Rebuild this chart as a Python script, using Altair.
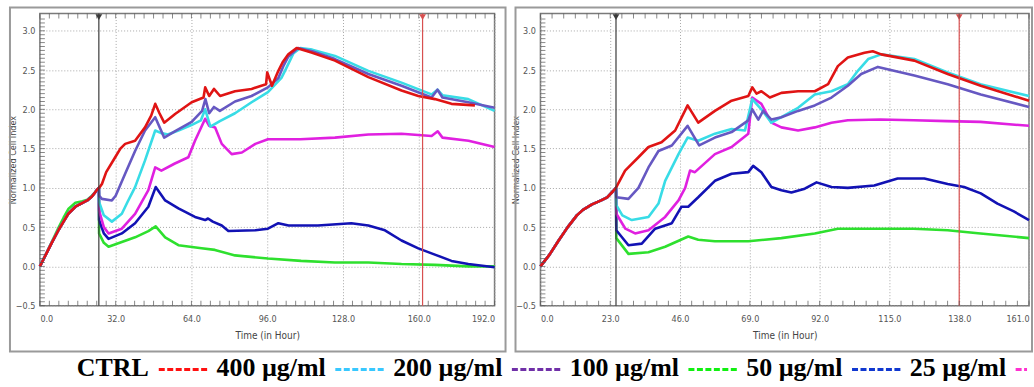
import altair as alt
import pandas as pd

# ---------------- data ----------------
series = ["CTRL", "400 µg/ml", "200 µg/ml", "100 µg/ml", "50 µg/ml", "25 µg/ml"]
line_colors = ["#e01414", "#38dce6", "#6658c2", "#2ee02e", "#1212b4", "#e020e0"]
line_widths = [2.6, 2.6, 2.6, 3.8, 4.4, 2.8]
draw_order = ["100 µg/ml", "50 µg/ml", "25 µg/ml", "400 µg/ml", "200 µg/ml", "CTRL"]

# pre-treatment (shared baseline growth)
pre_t_L = [0, 2, 5, 8, 10, 12, 15, 18, 20, 22, 24, 24.9]
pre_v_L = [0.0, 0.12, 0.30, 0.47, 0.57, 0.67, 0.76, 0.81, 0.84, 0.89, 0.97, 1.0]
pre_v_L_green = [0.0, 0.12, 0.31, 0.50, 0.62, 0.73, 0.81, 0.83, 0.85, 0.90, 0.97, 1.0]
pre_t_R = [0, 3, 6, 9, 12, 14, 17, 20, 22, 24, 24.9]
pre_v_R = [0.0, 0.15, 0.33, 0.50, 0.65, 0.72, 0.79, 0.84, 0.88, 0.96, 1.0]

# ---- left panel (0-192 h) ----
L_red_t = [25.0, 26.2, 28, 31.8, 34, 36, 40.2, 44.4, 47, 48.7, 50.5, 52.5, 57.1, 64.1, 69.1, 69.8, 71.5, 73.5, 76.1, 82.4, 89.4, 95.5, 96.0, 98, 100.7, 102.5, 104.9, 108.4, 115, 124.6, 138.7, 152.7, 159.8, 166.8, 173.8, 183.7]
L_red_v = [1.0, 1.05, 1.2, 1.39, 1.5, 1.56, 1.6, 1.77, 1.92, 2.07, 1.95, 1.83, 1.94, 2.09, 2.15, 2.28, 2.17, 2.26, 2.17, 2.23, 2.26, 2.32, 2.47, 2.3, 2.49, 2.6, 2.70, 2.78, 2.72, 2.62, 2.41, 2.24, 2.17, 2.13, 2.07, 2.05]
L_cyan_t = [25.0, 27, 30.4, 34.6, 37, 40.2, 44.4, 48.7, 51, 54, 58.5, 64, 68, 69.8, 72, 76, 82.4, 89.4, 96.3, 102, 103.5, 107, 110, 115, 124.6, 138.7, 152.7, 165.4, 167.9, 170, 180.9, 192]
L_cyan_v = [0.82, 0.65, 0.57, 0.67, 0.82, 1.01, 1.35, 1.73, 1.70, 1.68, 1.73, 1.80, 1.86, 2.0, 1.78, 1.85, 1.95, 2.09, 2.22, 2.40, 2.49, 2.71, 2.78, 2.76, 2.68, 2.49, 2.34, 2.19, 2.25, 2.18, 2.13, 1.98]
L_purple_t = [25.0, 26.2, 30.4, 32, 36, 40.2, 44.4, 48.7, 52.5, 57.5, 64.1, 68.5, 69.9, 71.5, 73.5, 76, 82.4, 89.4, 96.3, 100.7, 102.8, 104.9, 109, 115, 124.6, 138.7, 152.7, 165.4, 167.9, 170, 180.9, 192]
L_purple_v = [0.9, 0.86, 0.84, 0.9, 1.18, 1.47, 1.73, 1.90, 1.64, 1.73, 1.84, 1.98, 2.13, 1.95, 2.03, 1.98, 2.10, 2.17, 2.28, 2.40, 2.55, 2.67, 2.78, 2.74, 2.64, 2.45, 2.30, 2.15, 2.25, 2.15, 2.09, 2.02]
L_green_t = [25.0, 27, 29, 34.6, 40.2, 45.8, 48.9, 52.9, 58.5, 68.3, 73.9, 82.4, 96.3, 110.3, 124.6, 138.7, 152.7, 166.8, 180.9, 192]
L_green_v = [0.42, 0.30, 0.25, 0.31, 0.37, 0.45, 0.51, 0.37, 0.27, 0.23, 0.21, 0.14, 0.10, 0.07, 0.05, 0.05, 0.03, 0.02, 0.0, 0.0]
L_blue_t = [25.0, 27, 29, 34.6, 40.2, 45.8, 48.9, 52.9, 58.5, 65.5, 69.8, 71, 73, 76.8, 79.6, 91, 96.3, 100.7, 105, 117.4, 131.5, 138.7, 145.7, 152.7, 159.8, 166.8, 173.8, 180.9, 192]
L_blue_v = [0.59, 0.42, 0.35, 0.42, 0.55, 0.76, 1.01, 0.84, 0.74, 0.63, 0.59, 0.61, 0.57, 0.52, 0.45, 0.46, 0.48, 0.55, 0.52, 0.52, 0.55, 0.52, 0.46, 0.33, 0.23, 0.15, 0.07, 0.03, -0.01]
L_mag_t = [25.0, 27, 29, 34.6, 40.2, 45.8, 48.7, 51.3, 57, 62.7, 65.5, 69.8, 71.5, 74, 76.8, 81, 85.3, 91, 96.3, 110, 124.6, 138.7, 152.7, 165.4, 168, 170, 181, 192]
L_mag_v = [0.71, 0.50, 0.42, 0.48, 0.67, 0.97, 1.26, 1.22, 1.31, 1.39, 1.60, 1.88, 1.79, 1.77, 1.56, 1.43, 1.45, 1.56, 1.62, 1.62, 1.64, 1.68, 1.69, 1.66, 1.72, 1.64, 1.60, 1.52]

# ---- right panel (0-161 h) ----
R_red_t = [25.0, 27.9, 32.3, 35.6, 39.9, 44.4, 48.5, 52, 57.5, 63, 68.5, 69.8, 71.2, 72.8, 75.6, 79.4, 84.9, 90.4, 94.8, 98, 101.3, 106.8, 109.5, 112.3, 123.2, 134.2, 145.1, 161]
R_red_v = [1.01, 1.22, 1.39, 1.52, 1.58, 1.73, 2.05, 1.83, 1.98, 2.11, 2.17, 2.28, 2.2, 2.23, 2.15, 2.21, 2.23, 2.23, 2.32, 2.55, 2.66, 2.72, 2.74, 2.70, 2.62, 2.45, 2.30, 2.11]
R_cyan_t = [25.0, 27, 30.1, 35.6, 38.9, 41.1, 45.5, 48.5, 52, 57.5, 63, 67.4, 69.8, 72.8, 76.1, 79.4, 84.9, 90.4, 95.9, 101.3, 104.6, 108, 112.3, 123.2, 134.2, 145, 161]
R_cyan_v = [0.78, 0.65, 0.59, 0.63, 0.80, 1.09, 1.43, 1.64, 1.60, 1.69, 1.75, 1.73, 2.13, 2.0, 1.83, 1.90, 2.02, 2.19, 2.23, 2.32, 2.49, 2.64, 2.70, 2.64, 2.47, 2.32, 2.17]
R_purple_t = [25.0, 29, 32.3, 35.6, 38.9, 43.3, 48.5, 52.3, 57.5, 63, 68.5, 69.8, 71.8, 73.4, 76.1, 79.4, 84.9, 90.4, 95.9, 101.3, 105.7, 111.2, 123.2, 134.2, 145.1, 161]
R_purple_v = [0.88, 0.86, 1.0, 1.26, 1.47, 1.54, 1.79, 1.54, 1.64, 1.71, 1.86, 2.0, 1.87, 1.98, 1.87, 1.90, 1.98, 2.05, 2.15, 2.30, 2.45, 2.54, 2.43, 2.32, 2.19, 2.03]
R_green_t = [25.0, 29, 35.6, 41.1, 48.7, 52, 57.5, 68.5, 79.4, 90.4, 98, 112, 123, 134.2, 145, 161]
R_green_v = [0.36, 0.16, 0.18, 0.25, 0.38, 0.34, 0.32, 0.32, 0.36, 0.42, 0.48, 0.48, 0.48, 0.46, 0.42, 0.36]
R_blue_t = [25.0, 29, 33.4, 37.8, 43.3, 46.5, 48.7, 52, 57.5, 63, 68.5, 70.1, 72.8, 76.1, 79.4, 82.7, 87.1, 91, 95.9, 101.3, 110, 117.7, 126.5, 134.2, 139.6, 145.1, 150.6, 156, 161]
R_blue_v = [0.46, 0.27, 0.29, 0.48, 0.55, 0.76, 0.76, 0.88, 1.09, 1.18, 1.20, 1.28, 1.20, 1.01, 0.97, 0.94, 0.99, 1.07, 1.01, 1.0, 1.03, 1.12, 1.12, 1.05, 1.01, 0.93, 0.80, 0.70, 0.59]
R_mag_t = [25.0, 28, 31.2, 35.6, 41.1, 45.5, 47.7, 49.3, 50.9, 57.5, 63, 68.5, 69.8, 72.8, 76.1, 79.4, 84.9, 90.4, 95.9, 101.3, 112, 123, 134, 145, 161]
R_mag_v = [0.67, 0.48, 0.42, 0.46, 0.63, 0.84, 1.0, 1.22, 1.20, 1.43, 1.52, 1.69, 2.15, 2.07, 1.83, 1.77, 1.73, 1.77, 1.83, 1.86, 1.87, 1.86, 1.85, 1.84, 1.79]

# event markers (vertical lines)
events_L = [24.9, 161.6]
events_R = [24.9, 138.0]
event_colors = ["#3a3a3a", "#d85050"]

# axis ticks
xticks_L = [0, 32, 64, 96, 128, 160, 192]
xticks_R = [0, 23, 46, 69, 92, 115, 138, 161]
yticks = [-0.5, 0.0, 0.5, 1.0, 1.5, 2.0, 2.5, 3.0]
minor_x_L = [4 * i for i in range(49)]
minor_x_R = [23 / 6 * i for i in range(43)]
minor_y = [round(-0.5 + 0.05 * i, 3) for i in range(74)]
Y_DOMAIN = [-0.5, 3.22]

# caption line under the figure: "CTRL ------ 400 µg/ml ------ ..." (coloured dashes after each label)
legend_labels = ["CTRL", "400 µg/ml", "200 µg/ml", "100 µg/ml", "50 µg/ml", "25 µg/ml"]
legend_dash_colors = ["#ff1010", "#38c8ff", "#7030a8", "#10f010", "#1038d0", "#ff30d0"]

W_L, W_R, H = 456, 490, 293


def build_df(pre_t, pre_v, pre_v_green, post):
    rows = []
    for k, name in enumerate(draw_order):
        t_post, v_post = post[name]
        pv = pre_v_green if name == "100 µg/ml" else pre_v
        ts = list(pre_t) + list(t_post)
        vs = list(pv) + list(v_post)
        for i, (t, v) in enumerate(zip(ts, vs)):
            rows.append({"series": name, "t": t, "v": v, "idx": i, "k": k})
    return pd.DataFrame(rows)


df_L = build_df(pre_t_L, pre_v_L, pre_v_L_green, {
    "CTRL": (L_red_t, L_red_v), "400 µg/ml": (L_cyan_t, L_cyan_v),
    "200 µg/ml": (L_purple_t, L_purple_v), "100 µg/ml": (L_green_t, L_green_v),
    "50 µg/ml": (L_blue_t, L_blue_v), "25 µg/ml": (L_mag_t, L_mag_v)})
df_R = build_df(pre_t_R, pre_v_R, pre_v_R, {
    "CTRL": (R_red_t, R_red_v), "400 µg/ml": (R_cyan_t, R_cyan_v),
    "200 µg/ml": (R_purple_t, R_purple_v), "100 µg/ml": (R_green_t, R_green_v),
    "50 µg/ml": (R_blue_t, R_blue_v), "25 µg/ml": (R_mag_t, R_mag_v)})

AXIS_FONT = "Liberation Sans Narrow, DejaVu Sans Condensed, Liberation Sans"

# --- caption layout (text flows left to right, widths from Times-Bold metrics) ---
CAP_SIZE = 26
CHAR_W = {"C": 0.722, "T": 0.667, "R": 0.722, "L": 0.667, " ": 0.25, "µ": 0.556, "g": 0.5,
          "/": 0.278, "m": 0.833, "l": 0.278}


def text_width(s):
    return sum(CHAR_W.get(ch, 0.5) for ch in s) * CAP_SIZE


def caption_layers():
    # positions relative to the left plot's origin
    x = 37.0                   # caption starts just right of the left panel's axis
    bottom_y = H + 76          # bottom of the text line (page bottom)
    dash_y = H + 64
    max_x = W_L + 46 + W_R - 2  # stop at the page edge
    layers = []
    one = pd.DataFrame({"a": [0]})
    for lab, col in zip(legend_labels, legend_dash_colors):
        layers.append(alt.Chart(pd.DataFrame({"label": [lab]})).mark_text(
            align="left", baseline="bottom", font="Liberation Serif", fontSize=CAP_SIZE,
            fontWeight="bold", color="#000000"
        ).encode(x=alt.value(x), y=alt.value(bottom_y), text="label:N"))
        x += text_width(lab) + 10
        x2 = min(x + 50, max_x)
        layers.append(alt.Chart(one).mark_rule(strokeWidth=3, strokeDash=[6, 2.5], color=col).encode(
            x=alt.value(x), x2=alt.value(x2), y=alt.value(dash_y)))
        x += 58
    return layers


def panel(df, xmax, xticks, minor_x, events, W, frame_left, frame_right, title_pad, extra):
    xs = alt.Scale(domain=[0, xmax], nice=False, zero=False)
    ys = alt.Scale(domain=Y_DOMAIN, nice=False, zero=False)
    xax = alt.Axis(values=xticks, format=".1f", title="Time (in Hour)", grid=True,
                   ticks=False, domain=False, labelPadding=9, titlePadding=7)
    yax = alt.Axis(values=yticks, format=".1f", title="Normalized Cell Index", grid=True,
                   ticks=False, domain=False, labelPadding=5, titlePadding=title_pad, titleFontSize=9)

    frame = alt.Chart(pd.DataFrame({"a": [0]})).mark_rect(
        fillOpacity=0, stroke="#9a9a9a", strokeWidth=2
    ).encode(x=alt.value(frame_left), x2=alt.value(W + frame_right), y=alt.value(-6), y2=alt.value(H + 46))

    lines = alt.Chart(df).mark_line(strokeJoin="round").encode(
        x=alt.X("t:Q", scale=xs, axis=xax),
        y=alt.Y("v:Q", scale=ys, axis=yax),
        color=alt.Color("series:N", scale=alt.Scale(domain=series, range=line_colors), legend=None),
        strokeWidth=alt.StrokeWidth("series:N", scale=alt.Scale(domain=series, range=line_widths), legend=None),
        detail="series:N",
        order="idx:Q",
    )

    ev = pd.DataFrame({"t": events, "c": event_colors})
    rules = alt.Chart(ev).mark_rule(strokeWidth=1.2).encode(
        x=alt.X("t:Q", scale=xs), color=alt.Color("c:N", scale=None, legend=None))
    tri = alt.Chart(ev).mark_point(shape="triangle-down", filled=True, size=45, opacity=1).encode(
        x=alt.X("t:Q", scale=xs), y=alt.datum(3.175), color=alt.Color("c:N", scale=None, legend=None))

    mx = pd.DataFrame({"t": minor_x})
    my = pd.DataFrame({"v": minor_y})
    tick_bottom = alt.Chart(mx).mark_tick(orient="vertical", size=5, thickness=1, color="#555", yOffset=-2.5).encode(
        x=alt.X("t:Q", scale=xs), y=alt.datum(Y_DOMAIN[0]))
    tick_top = alt.Chart(mx).mark_tick(orient="vertical", size=5, thickness=1, color="#555", yOffset=2.5).encode(
        x=alt.X("t:Q", scale=xs), y=alt.datum(Y_DOMAIN[1]))
    tick_left = alt.Chart(my).mark_tick(orient="horizontal", size=5, thickness=1, color="#555", xOffset=2.5).encode(
        y=alt.Y("v:Q", scale=ys), x=alt.datum(0))

    layers = [frame, lines, rules, tri, tick_bottom, tick_top, tick_left] + extra
    return alt.layer(*layers).properties(width=W, height=H)


left = panel(df_L, 192, xticks_L, minor_x_L, events_L, W_L, -30, 11, -2, caption_layers())
right = panel(df_R, 161, xticks_R, minor_x_R, events_R, W_R, -25, 3, -5, [])

chart = alt.hconcat(left, right, spacing=46, bounds="flush").properties(
    padding={"left": 7, "top": 5, "right": 0, "bottom": 0},
    background="white",
).configure_view(stroke="#7a7a7a", strokeWidth=1.5).configure_axis(
    labelFont=AXIS_FONT, labelFontSize=9, labelColor="#555555",
    titleFont=AXIS_FONT, titleFontSize=10, titleFontWeight="normal", titleColor="#444444",
    gridColor="#a8a8a8", gridDash=[1, 2], gridWidth=1, gridOpacity=1,
)

chart.save("out.html", embed_options={"renderer": "svg", "actions": False})
